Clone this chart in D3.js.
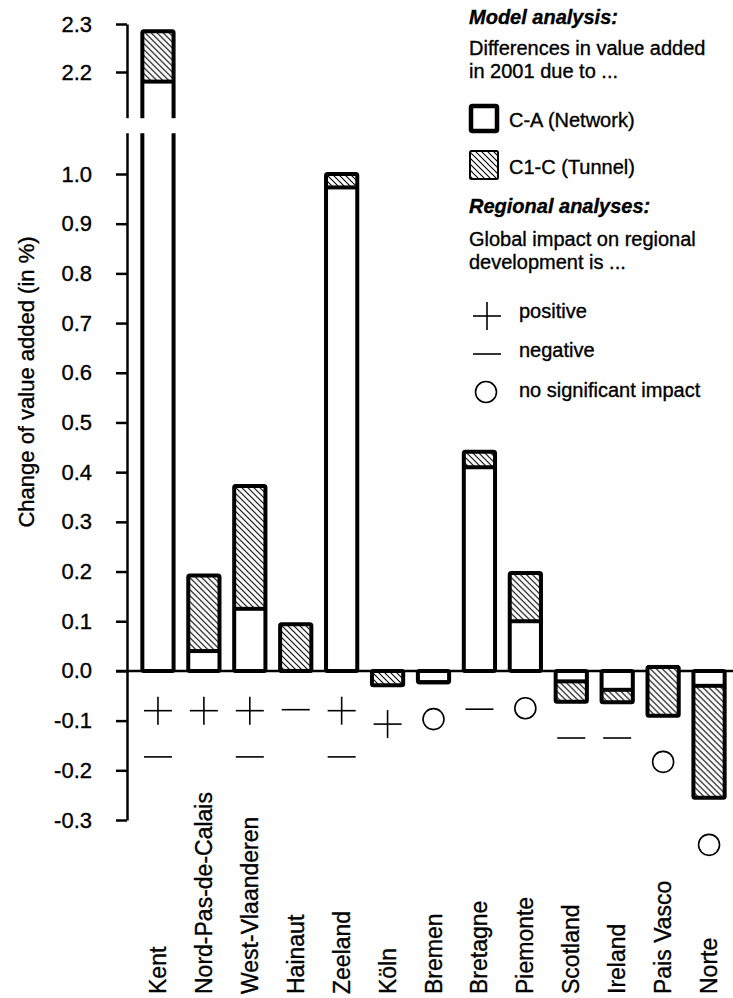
<!DOCTYPE html>
<html>
<head>
<meta charset="utf-8">
<script src="https://cdn.jsdelivr.net/npm/d3@7"></script>
<style>
  body { margin: 0; background: #fff; }
  svg { display: block; font-family: "Liberation Sans", Arial, Helvetica, sans-serif; }
  text { stroke: #000; stroke-width: 0.35px; fill: #000; }
</style>
</head>
<body>
<svg id="chart" width="733" height="998"></svg>
<script>
// regions on the x axis
var regions = ["Kent", "Nord-Pas-de-Calais", "West-Vlaanderen", "Hainaut", "Zeeland", "Köln",
  "Bremen", "Bretagne", "Piemonte", "Scotland", "Ireland", "Pais Vasco", "Norte"];
// C-A (Network): change of value added, in %
var networkValues = [2.18, 0.04, 0.125, 0, 0.973, 0, -0.023, 0.41, 0.10, -0.021, -0.038, 0.008, -0.03];
// C1-C (Tunnel): stacked on the end of C-A
var tunnelValues = [0.105, 0.152, 0.247, 0.094, 0.027, -0.029, 0, 0.031, 0.097, -0.041, -0.025, -0.098, -0.225];
// regional analyses ("+" positive, "-" negative, "o" no significant impact)
// and the value-axis level where each symbol sits
var impactFirst = ["+", "+", "+", "-", "+", "+", "o", "-", "o", "-", "-", "o", "o"];
var impactFirstAt = [-0.08, -0.08, -0.08, -0.078, -0.08, -0.107, -0.097, -0.077, -0.075, -0.135, -0.135, -0.183, -0.35];
var impactSecond = ["-", null, "-", null, "-", null, null, null, null, null, null, null, null];
var impactSecondAt = [-0.173, null, -0.173, null, -0.173, null, null, null, null, null, null, null, null];
// y axis ticks (axis is broken between 1.0 and 2.2)
var tickValues = [-0.3, -0.2, -0.1, 0, 0.1, 0.2, 0.3, 0.4, 0.5, 0.6, 0.7, 0.8, 0.9, 1.0, 2.2, 2.3];

var svg = d3.select("#chart");

// two pieces of the value axis joined into one polylinear scale
var yLow = d3.scaleLinear().domain([-0.3, 1.0]).range([820, 174]);
var yHigh = d3.scaleLinear().domain([2.2, 2.3]).range([72, 24]);
var breakLow = 1.08, breakHigh = 2.11;
var y = d3.scaleLinear()
  .domain([-0.3, breakLow, breakHigh, 2.3])
  .range([yLow(-0.3), yLow(breakLow), yHigh(breakHigh), yHigh(2.3)]);

var x = d3.scaleBand()
  .domain(regions)
  .range([135, 732])
  .paddingInner(0.32)
  .paddingOuter(0.16);
var bw = x.bandwidth();

// hatch for the tunnel part
var pat = svg.append("defs").append("pattern")
  .attr("id", "hatch")
  .attr("patternUnits", "userSpaceOnUse")
  .attr("width", 6).attr("height", 6);
pat.append("rect").attr("width", 6).attr("height", 6).attr("fill", "#fff");
pat.append("path")
  .attr("d", "M-1,-1L7,7M-1,5L1,7M5,-1L7,1")
  .attr("stroke", "#000").attr("stroke-width", 1.1);

// zero line
svg.append("line")
  .attr("x1", 116).attr("x2", 733)
  .attr("y1", y(0)).attr("y2", y(0))
  .attr("stroke", "#000").attr("stroke-width", 2.5);

// axis
var yAxis = d3.axisLeft(y)
  .tickValues(tickValues)
  .tickSize(11)
  .tickSizeOuter(0)
  .tickPadding(24)
  .tickFormat(function(d) { return d.toFixed(1); });

var axisG = svg.append("g")
  .attr("transform", "translate(127,0)")
  .call(yAxis);
axisG.select(".domain").attr("stroke-width", 2.5);
axisG.selectAll(".tick line").attr("stroke-width", 2.5);
axisG.selectAll(".tick text")
  .attr("font-size", 22)
  .attr("font-family", "Liberation Sans, Arial, sans-serif")
  .attr("fill", "#000");

svg.append("text")
  .attr("transform", "translate(34,382) rotate(-90)")
  .attr("text-anchor", "middle")
  .attr("font-size", 22)
  .text("Change of value added (in %)");

// bars
var bar = svg.selectAll("g.bar")
    .data(regions)
  .enter().append("g")
    .attr("class", "bar")
    .attr("transform", function(d) { return "translate(" + x(d) + ",0)"; });

bar.append("rect")
  .attr("y", function(d, i) { return Math.min(y(0), y(networkValues[i])); })
  .attr("height", function(d, i) { return Math.abs(y(0) - y(networkValues[i])); })
  .attr("width", bw)
  .attr("fill", "#fff");

bar.append("rect")
  .attr("y", function(d, i) {
    var a = networkValues[i], b = a + tunnelValues[i];
    return Math.min(y(a), y(b));
  })
  .attr("height", function(d, i) {
    var a = networkValues[i], b = a + tunnelValues[i];
    return Math.abs(y(a) - y(b));
  })
  .attr("width", bw)
  .attr("fill", "url(#hatch)");

bar.append("line")
  .attr("x1", 0).attr("x2", bw)
  .attr("y1", function(d, i) { return y(networkValues[i]); })
  .attr("y2", function(d, i) { return y(networkValues[i]); })
  .attr("stroke", "#000").attr("stroke-width", 4);

bar.append("rect")
  .attr("y", function(d, i) {
    var a = networkValues[i], b = a + tunnelValues[i];
    return y(Math.max(0, a, b));
  })
  .attr("height", function(d, i) {
    var a = networkValues[i], b = a + tunnelValues[i];
    return y(Math.min(0, a, b)) - y(Math.max(0, a, b));
  })
  .attr("width", bw)
  .attr("rx", 1.5)
  .attr("fill", "none")
  .attr("stroke", "#000").attr("stroke-width", 4);

// axis break
svg.append("rect")
  .attr("x", 105).attr("width", 80)
  .attr("y", y(breakHigh) + 3)
  .attr("height", y(breakLow) - y(breakHigh) - 4)
  .attr("fill", "#fff");

// symbols of the regional analyses
function drawSymbol(g, type, cx, cy, w) {
  var h = w / 2;
  if (type === "+") {
    g.append("line").attr("x1", cx - h).attr("x2", cx + h).attr("y1", cy).attr("y2", cy);
    g.append("line").attr("x1", cx).attr("x2", cx).attr("y1", cy - h).attr("y2", cy + h);
  } else if (type === "-") {
    g.append("line").attr("x1", cx - h).attr("x2", cx + h).attr("y1", cy).attr("y2", cy);
  } else if (type === "o") {
    g.append("circle").attr("cx", cx).attr("cy", cy).attr("r", 10.5).attr("fill", "none");
  }
}

var symG = svg.append("g").attr("stroke", "#000").attr("stroke-width", 1.6);
regions.forEach(function(r, i) {
  var cx = x(r) + bw / 2;
  if (impactFirst[i]) drawSymbol(symG, impactFirst[i], cx, y(impactFirstAt[i]), 28);
  if (impactSecond[i]) drawSymbol(symG, impactSecond[i], cx, y(impactSecondAt[i]), 28);
});

// category labels
svg.append("g").selectAll("text")
    .data(regions)
  .enter().append("text")
    .attr("transform", function(d) { return "translate(" + (x(d) + bw / 2 + 8) + ",994) rotate(-90)"; })
    .attr("font-size", 23)
    .text(function(d) { return d; });

// legend
var lg = svg.append("g").attr("font-size", 20);
lg.append("text").attr("x", 469).attr("y", 24)
  .attr("font-weight", "bold").attr("font-style", "italic").text("Model analysis:");
lg.append("text").attr("x", 469).attr("y", 55).text("Differences in value added");
lg.append("text").attr("x", 469).attr("y", 78).text("in 2001 due to ...");

lg.append("rect").attr("x", 471).attr("y", 106).attr("width", 26).attr("height", 25).attr("rx", 1.5)
  .attr("fill", "#fff").attr("stroke", "#000").attr("stroke-width", 4.5);
lg.append("text").attr("x", 509).attr("y", 127).text("C-A (Network)");

lg.append("rect").attr("x", 470).attr("y", 151).attr("width", 28).attr("height", 28).attr("rx", 1.5)
  .attr("fill", "url(#hatch)").attr("stroke", "#000").attr("stroke-width", 2);
lg.append("text").attr("x", 509).attr("y", 174).text("C1-C (Tunnel)");

lg.append("text").attr("x", 469).attr("y", 213)
  .attr("font-weight", "bold").attr("font-style", "italic").text("Regional analyses:");
lg.append("text").attr("x", 469).attr("y", 246).text("Global impact on regional");
lg.append("text").attr("x", 469).attr("y", 269).text("development is ...");

var lsym = lg.append("g").attr("stroke", "#000").attr("stroke-width", 1.6);
drawSymbol(lsym, "+", 487, 316, 28);
drawSymbol(lsym, "-", 487, 354, 28);
drawSymbol(lsym, "o", 486, 392, 28);
lg.append("text").attr("x", 519).attr("y", 318).text("positive");
lg.append("text").attr("x", 519).attr("y", 357).text("negative");
lg.append("text").attr("x", 519).attr("y", 397).text("no significant impact");
</script>
</body>
</html>
